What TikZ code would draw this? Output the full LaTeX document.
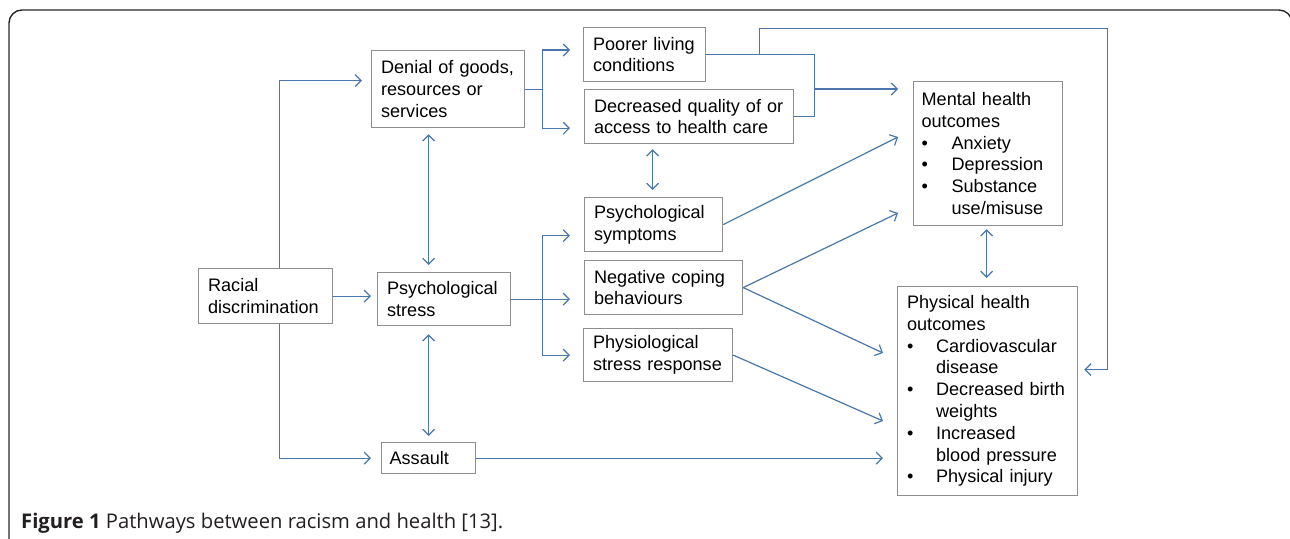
\documentclass[tikz,border=0pt]{standalone}
\usepackage{graphicx}
\usepackage{fontspec}
\setmainfont{Liberation Sans}
\newfontfamily\capfont{Open Sans}
\usetikzlibrary{arrows.meta}
\definecolor{conn}{HTML}{4A76AC}
\definecolor{boxgray}{HTML}{8E8E8E}
\definecolor{framec}{HTML}{262626}
\definecolor{captext}{HTML}{231F20}
\newcommand\myboxfont{\fontsize{18.1}{21.8}\selectfont}
\newcommand\nohyph{\hyphenpenalty=10000\relax\exhyphenpenalty=10000\relax}
\begin{document}
\begin{tikzpicture}[x=1pt,y=-1pt,
  box/.style={draw=boxgray, line width=1.2pt, fill=white, anchor=north west,
    inner xsep=9.5pt, inner ysep=0pt, align=left, text width=#1,
    font=\myboxfont, execute at begin node=\nohyph},
  link/.style={draw=conn, line width=1.2pt},
  arr/.style={link, -{Straight Barb[length=6pt,width=12pt]}},
  dbl/.style={link, {Straight Barb[length=6pt,width=12pt]}-{Straight Barb[length=6pt,width=12pt]}}
]
\useasboundingbox (0,0) rectangle (1290,538);
\draw[framec, line width=1.4pt, rounded corners=13pt] (9,10) rectangle (1292,570);

% boxes
\node[box=115pt, minimum height=55pt] (rd) at (198,268) {Racial\\discrimination};
\node[box=134pt, minimum height=77pt] (den) at (371,50) {Denial~of~goods,\\resources~or\\services};
\node[box=114pt, minimum height=53pt] (ps) at (377,272) {Psychological\\stress};
\node[box=78pt, inner xsep=8pt, minimum height=31pt] (as) at (381,442) {Assault};
\node[box=103pt, minimum height=54pt] (pl) at (583,27) {Poorer~living\\conditions};
\node[box=190pt, minimum height=54pt] (dq) at (584,89) {Decreased~quality~of~or\\access~to~health~care};
\node[box=119pt, minimum height=54pt] (sy) at (584,197) {Psychological\\symptoms};
\node[box=139pt, minimum height=54pt] (nc) at (584,260) {Negative~coping\\behaviours};
\node[box=130pt, minimum height=53pt] (pr) at (583,328) {Physiological\\stress~response};
\node[box=133pt, inner xsep=8pt, minimum height=144pt] (mh) at (913,81)
  {Mental~health\\outcomes\\
   \makebox[30pt][l]{\textbullet}Anxiety\\
   \makebox[30pt][l]{\textbullet}Depression\\
   \makebox[30pt][l]{\textbullet}Substance\\
   \hspace*{30pt}use/misuse};
\node[box=161pt, minimum height=209pt] (ph) at (897,286)
  {Physical~health\\outcomes\\
   \makebox[29pt][l]{\textbullet}Cardiovascular\\
   \hspace*{29pt}disease\\
   \makebox[29pt][l]{\textbullet}Decreased~birth\\
   \hspace*{29pt}weights\\
   \makebox[29pt][l]{\textbullet}Increased\\
   \hspace*{29pt}blood~pressure\\
   \makebox[29pt][l]{\textbullet}Physical~injury};

% connectors from racial discrimination
\draw[arr, shorten >=9pt] ([xshift=14pt]rd.north) |- ([yshift=8.5pt]den.west);
\draw[arr, shorten >=6pt] (rd.east) -- (rd.east -| ps.west);
\draw[arr, shorten >=10pt] ([xshift=14pt]rd.south) |- (as.west);

% double arrows
\draw[dbl, shorten <=6pt, shorten >=7pt] ([xshift=-19.5pt]den.south) -- ([xshift=-19.5pt]den.south |- ps.north);
\draw[dbl, shorten <=8pt, shorten >=6pt] ([xshift=-15.5pt]ps.south) -- ([xshift=-15.5pt]ps.south |- as.north);
\draw[dbl, shorten <=5pt, shorten >=7pt] ([xshift=-36.5pt]dq.south) -- ([xshift=-36.5pt]dq.south |- sy.north);
\draw[dbl, shorten <=3pt, shorten >=8pt] ([xshift=-1.5pt]mh.south) -- ([xshift=-1.5pt]mh.south |- ph.north);

% denial branch
\coordinate (b1) at ([xshift=17pt]den.east);
\draw[link] (den.east) -- (b1);
\draw[arr, shorten >=13pt] (b1) |- (pl.west |- den.north);
\draw[arr, shorten >=14pt] (b1) |- (dq.west |- den.south);

% poorer / decreased merge to mental
\coordinate (m1) at ([xshift=20pt]dq.east);
\draw[link] (pl.east) -| (m1) -- (dq.east);
\draw[arr, shorten >=15pt] ([yshift=-8pt]mh.north west -| m1) -- ([yshift=-8pt]mh.north west);

% feedback loop to physical
\coordinate (f0) at ([xshift=53pt]pl.east);
\coordinate (f1) at ([xshift=53pt, yshift=26pt]pl.east);
\coordinate (f2) at ([xshift=29pt, yshift=21.5pt]ph.east);
\draw[arr, shorten >=6pt] (f0) -- (f1) -| (f2) -- (f2 -| ph.east);

% psychological stress branch
\coordinate (b2) at ([xshift=31pt]ps.east);
\draw[arr, shorten >=14pt] (ps.east) -- (ps.east -| nc.west);
\draw[arr, shorten >=14pt] (b2) |- ([yshift=-11pt]sy.west);
\draw[arr, shorten >=13pt] (b2) |- (pr.west);

% diagonals to outcomes
\draw[arr] (sy.east) -- ([xshift=-15pt, yshift=-56pt]mh.north west);
\draw[arr] (nc.east) -- ([xshift=-15pt, yshift=-132pt]mh.north west);
\draw[arr] (nc.east) -- ([xshift=-14pt, yshift=-67pt]ph.north west);
\draw[arr] (pr.east) -- ([xshift=-14pt, yshift=-135pt]ph.north west);
\draw[arr, shorten >=14pt] (as.east) -- (as.east -| ph.west);

% caption
\node[anchor=base west, inner sep=0pt, text=captext] (cap) at (21,528)
  {\resizebox{482pt}{!}{\capfont\fontsize{17}{20}\selectfont\textbf{Figure 1} Pathways between racism and health [13].}};
\end{tikzpicture}
\end{document}
